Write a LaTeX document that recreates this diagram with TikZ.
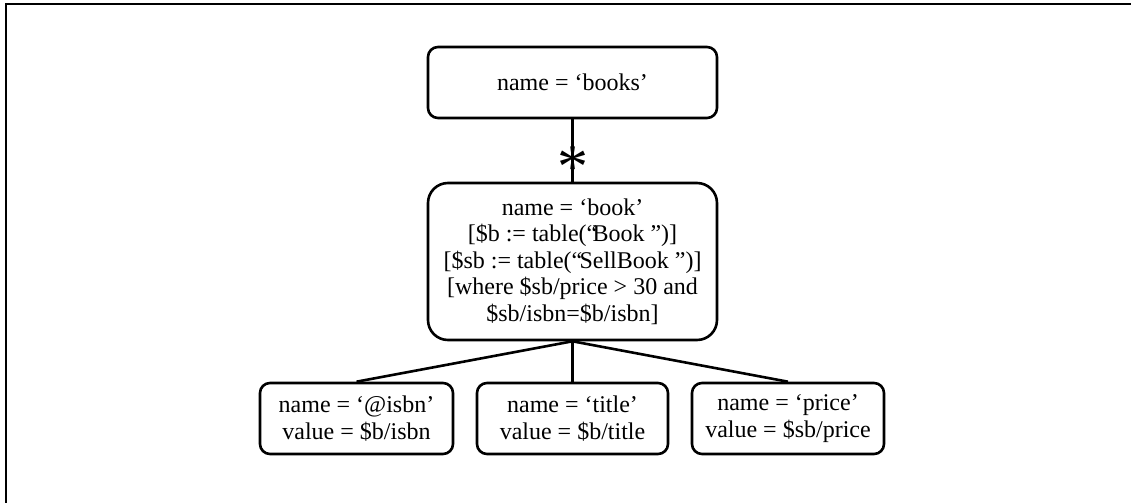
\documentclass[tikz,border=0pt]{standalone}
\usepackage{fontspec}
\setmainfont{Liberation Serif}
\begin{document}
\begin{tikzpicture}[x=0.5pt,y=-0.5pt,
  elem/.style={draw=black, line width=1.3pt, rounded corners=5pt, align=center, inner sep=0pt,
    font=\fontsize{12}{13.2}\selectfont},
  conn/.style={draw=black, line width=1.3pt},
  star/.style={inner sep=0pt, font=\fontsize{31}{31}\selectfont, text height=21.5pt, text depth=-7.5pt}]
\useasboundingbox (0,0) rectangle (1131,503);
\draw[line width=1.2pt] (6,503) -- (6,4) -- (1131,4);
\node[elem, minimum width=144.5pt, minimum height=35.5pt] (books) at (572.5,82.5) {name = ‘books’};
\node[elem, rounded corners=10pt, minimum width=144.5pt, minimum height=78.5pt] (book) at (572.5,261.5)
  {name = ‘book’\\{[}\$b := table(“\kern-0.2em Book ”)]\\{[}\$sb := table(“\kern-0.12em SellBook ”)]\\{[}where \$sb/price > 30 and\\\$sb/isbn=\$b/isbn]};
\node[elem, minimum width=96.5pt, minimum height=35.5pt] (isbn) at (356.5,418.5) {name = ‘@isbn’\\value = \$b/isbn};
\node[elem, minimum width=95.5pt, minimum height=35.5pt] (title) at (572.5,418.5) {name = ‘title’\\value = \$b/title};
\node[elem, minimum width=96pt, minimum height=35.5pt] (price) at (788,418.5) {name = ‘price’\\value = \$sb/price};
\draw[conn] (books.south) -- (book.north);
\draw[conn] (book.south) -- (isbn.north);
\draw[conn] (book.south) -- (title.north);
\draw[conn] (book.south) -- (price.north);
\node[star] (mult) at (572.5,166) {*};
\end{tikzpicture}
\end{document}
